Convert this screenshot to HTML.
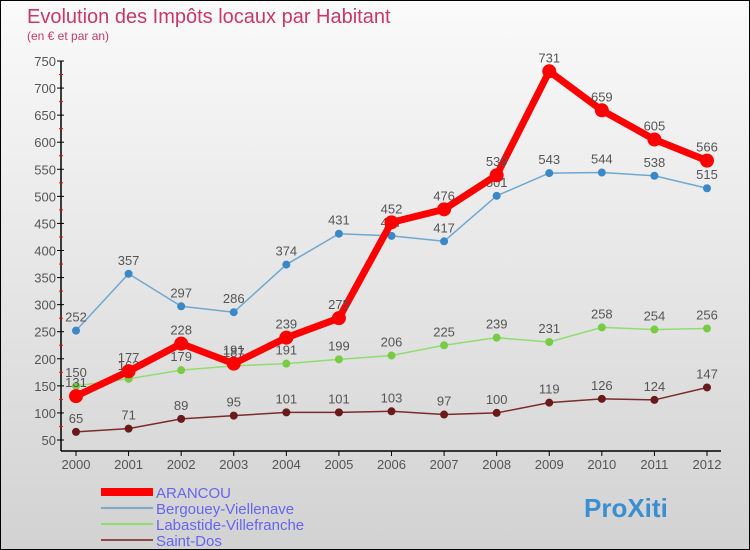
<!DOCTYPE html>
<html><head><meta charset="utf-8"><style>
body{margin:0}
#c{width:750px;height:550px;position:relative;overflow:hidden;background:linear-gradient(#fafafa,#d2d2d2);box-sizing:border-box;border:1px solid #000;font-family:"Liberation Sans",sans-serif}
</style></head><body>
<div id="c">
<svg id="s" width="750" height="550" style="position:absolute;left:0;top:0">
<text x="26" y="22" font-size="20" fill="#c8386a">Evolution des Impôts locaux par Habitant</text>
<text x="26" y="39" font-size="12" fill="#c8386a">(en € et par an)</text>
<g id="g"></g>
</svg>
</div>
<script>
const years=[2000,2001,2002,2003,2004,2005,2006,2007,2008,2009,2010,2011,2012];
const arancou=[131,177,228,191,239,275,452,476,539,731,659,605,566];
const bergouey=[252,357,297,286,374,431,427,417,501,543,544,538,515];
const labastide=[150,163,179,187,191,199,206,225,239,231,258,254,256];
const saintdos=[65,71,89,95,101,101,103,97,100,119,126,124,147];
const yTicks=[50,100,150,200,250,300,350,400,450,500,550,600,650,700,750];
const NS="http://www.w3.org/2000/svg";
const g=document.getElementById('g');
const X=i=>75+i*(706-75)/12;
const Y=v=>439-(v-50)*(439-60)/700;
function el(t,a,p){const e=document.createElementNS(NS,t);for(const k in a)e.setAttribute(k,a[k]);(p||g).appendChild(e);return e;}
let e=el('line',{x1:60,y1:60,x2:60,y2:450,stroke:'#000','stroke-width':1.5});


e=el('line',{x1:60,y1:450,x2:720,y2:450,stroke:'#000','stroke-width':1.5});


yTicks.forEach(v=>{
 el('line',{x1:56,y1:Y(v),x2:63,y2:Y(v),stroke:'#000'});
 if(v<750)el('line',{x1:58,y1:Y(v+25),x2:62,y2:Y(v+25),stroke:'#f00'});
 const t=el('text',{x:55,y:Y(v)+5,'font-size':13,fill:'#555','text-anchor':'end'});t.textContent=v;
 
 
});
years.forEach((y,i)=>{
 el('line',{x1:X(i),y1:450,x2:X(i),y2:455,stroke:'#000'});
 const t=el('text',{x:X(i),y:468,'font-size':13,fill:'#555','text-anchor':'middle'});t.textContent=y;
 
 
});
function series(d,col,w,r,name,dot){
 const p=el('polyline',{points:d.map((v,i)=>X(i)+','+Y(v)).join(' '),fill:'none',stroke:col,'stroke-width':w,'stroke-linejoin':'round'});
 
 
 d.forEach((v,i)=>{
  const c=el('circle',{cx:X(i),cy:Y(v),r:r,fill:dot});
  
  
  const t=el('text',{x:X(i),y:Y(v)-9,'font-size':13,fill:'#555','text-anchor':'middle'});t.textContent=v;
  
  
 });
}
series(saintdos,'#7a2c2c',1.5,4,'saint-dos','#6a1a1a');
series(labastide,'#90dd70',1.5,4,'labastide','#77cc44');
series(bergouey,'#6fa8d0',1.5,4,'bergouey','#3a88c8');
series(arancou,'#f00',7,7,'arancou','#f00');
const leg=[['ARANCOU','#f00',8],['Bergouey-Viellenave','#7aaac8',2],['Labastide-Villefranche','#90dd70',2],['Saint-Dos','#904848',2]];
leg.forEach((l,i)=>{
 const y=491+i*16;
 const ln=el('line',{x1:100,y1:y,x2:152,y2:y,stroke:l[1],'stroke-width':l[2]});
 
 
 const t=el('text',{x:155,y:y+6,'font-size':15,fill:'#6666ee'});t.textContent=l[0];
 
 
});
const lg=el('text',{x:583,y:516,'font-size':26,'font-weight':'bold',fill:'#3a8fd0'});lg.textContent='ProXiti';


</script>
</body></html>
